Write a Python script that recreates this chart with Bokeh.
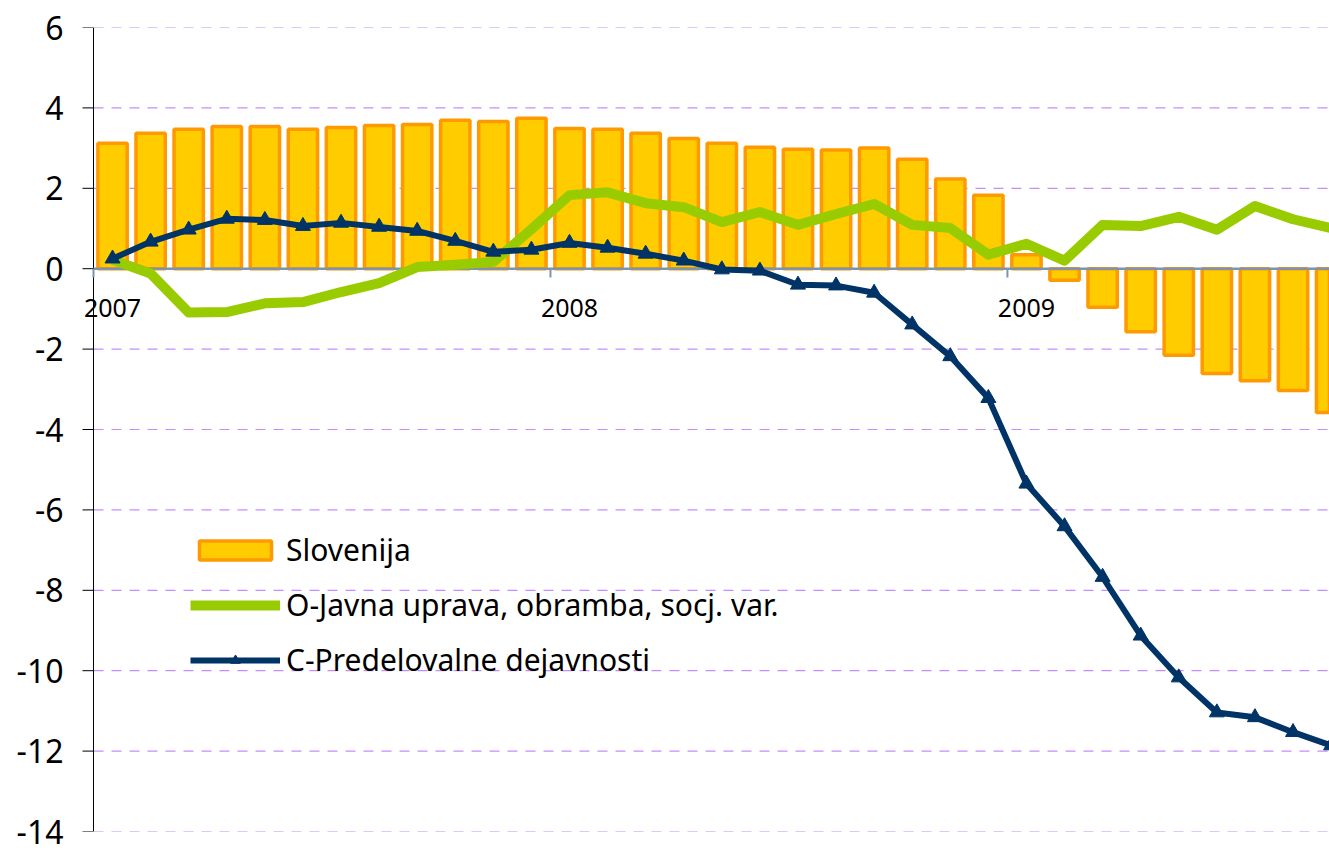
from bokeh.plotting import figure
from bokeh.models import Range1d, FixedTicker, Legend, LegendItem, ColumnDataSource
from bokeh.core.properties import value
from bokeh.embed import file_html
from bokeh.resources import INLINE

# ---- data (monthly, Jan 2007 .. Sep 2009) ----
months = [f"{y}-{m:02d}" for y in (2007, 2008, 2009) for m in range(1, 13)][:33]
slovenija = [3.12, 3.37, 3.47, 3.54, 3.54, 3.47, 3.51, 3.56, 3.59, 3.69, 3.66, 3.74,
             3.49, 3.47, 3.37, 3.24, 3.12, 3.02, 2.97, 2.95, 3.00, 2.72, 2.23, 1.83,
             0.35, -0.29, -0.96, -1.57, -2.15, -2.61, -2.79, -3.03, -3.58]
javna_uprava = [0.22, -0.12, -1.09, -1.08, -0.86, -0.83, -0.58, -0.36, 0.04, 0.10, 0.17, 0.98,
                1.83, 1.90, 1.63, 1.53, 1.16, 1.41, 1.09, 1.36, 1.61, 1.09, 1.01, 0.35,
                0.62, 0.20, 1.09, 1.06, 1.29, 0.97, 1.56, 1.23, 1.01]
predelovalne = [0.25, 0.67, 0.97, 1.24, 1.21, 1.06, 1.14, 1.04, 0.94, 0.69, 0.42, 0.47,
                0.64, 0.52, 0.37, 0.20, -0.02, -0.05, -0.40, -0.42, -0.60, -1.39, -2.18, -3.22,
                -5.35, -6.41, -7.67, -9.13, -10.17, -11.04, -11.16, -11.53, -11.86]
y_ticks = [-14, -12, -10, -8, -6, -4, -2, 0, 2, 4, 6]
legend_labels = ["Slovenija", "O-Javna uprava, obramba, socj. var.", "C-Predelovalne dejavnosti"]

idx = list(range(len(months)))
year_pos = [i for i, m in enumerate(months) if m.endswith("-01")]
year_labels = [months[i][:4] for i in year_pos]
year_bounds = [i - 0.5 for i in year_pos]

FONT = "Noto Sans"
PX = 38.08                      # pixels per category
AX = -0.5                       # category-axis start (where the value axis sits)
X0 = AX - 18 / PX               # a little room left of the axis for the first year label
X1 = X0 + (1329 - 75) / PX
GRID_END = X1 + 1

p = figure(width=1329, height=853, output_backend="svg", toolbar_location=None,
           x_range=Range1d(X0, X1), y_range=Range1d(y_ticks[0], y_ticks[-1]),
           x_axis_location=None, min_border_left=75, min_border_top=27,
           min_border_bottom=22, min_border_right=0)
p.outline_line_color = None
p.background_fill_color = "white"
p.border_fill_color = "white"
p.xgrid.visible = False
p.ygrid.visible = False

ya = p.yaxis[0]
ya.ticker = FixedTicker(ticks=y_ticks)
ya.major_label_overrides = {t: str(t) for t in y_ticks}
ya.axis_line_color = None
ya.major_tick_out = 0
ya.major_tick_in = 0
ya.minor_tick_out = 0
ya.minor_tick_in = 0
ya.major_label_text_font = FONT
ya.major_label_text_font_size = "32px"
ya.major_label_text_color = "black"
ya.major_label_standoff = 12

# dashed grid starting at the value axis
p.segment(x0=[AX] * len(y_ticks), x1=[GRID_END] * len(y_ticks), y0=y_ticks, y1=y_ticks,
          line_color="#C58CFF", line_width=1.2, line_dash="10 8")

src = ColumnDataSource(dict(x=idx, slo=slovenija, ju=javna_uprava, pd=predelovalne))

bars = p.vbar(x="x", top="slo", bottom=0, width=0.77, source=src,
              fill_color="#FFCC00", line_color="#FF9900", line_width=3.5)

# value axis line + ticks
p.segment(x0=[AX], x1=[AX], y0=[y_ticks[0]], y1=[y_ticks[-1]], line_color="black", line_width=1)
p.segment(x0=[AX - 11 / PX] * len(y_ticks), x1=[AX] * len(y_ticks), y0=y_ticks, y1=y_ticks,
          line_color="black", line_width=1)

# category axis at zero: drawn above bars, below lines
p.segment(x0=[AX], x1=[GRID_END], y0=[0], y1=[0], line_color="#7F93AA", line_width=2.5)
p.segment(x0=year_bounds, x1=year_bounds, y0=[0] * len(year_bounds),
          y1=[-0.22] * len(year_bounds), line_color="#7F93AA", line_width=2)
p.text(x=year_pos, y=[0] * len(year_pos), text=year_labels, y_offset=39,
       text_align="center", text_baseline="middle", text_font=value(FONT),
       text_font_size="25px", text_color="black")

green = p.line(x="x", y="ju", source=src, line_color="#99CC00", line_width=10,
               line_join="round")
navy = p.line(x="x", y="pd", source=src, line_color="#003366", line_width=6,
              line_join="round")
navy_pts = p.scatter(x="x", y="pd", source=src, marker="triangle", size=15,
                     fill_color="#003366", line_color="#003366")

legend = Legend(items=[
    LegendItem(label=legend_labels[0], renderers=[bars]),
    LegendItem(label=legend_labels[1], renderers=[green]),
    LegendItem(label=legend_labels[2], renderers=[navy, navy_pts]),
], location=(115, 151))
legend.background_fill_alpha = 0
legend.border_line_color = None
legend.padding = 0
legend.margin = 0
legend.spacing = 14
legend.glyph_width = 90
legend.glyph_height = 24
legend.label_height = 24
legend.label_standoff = 6
legend.label_text_font = FONT
legend.label_text_font_size = "30px"
legend.label_text_color = "black"
p.add_layout(legend, "center")

open("out.html", "w").write(file_html(p, INLINE))
